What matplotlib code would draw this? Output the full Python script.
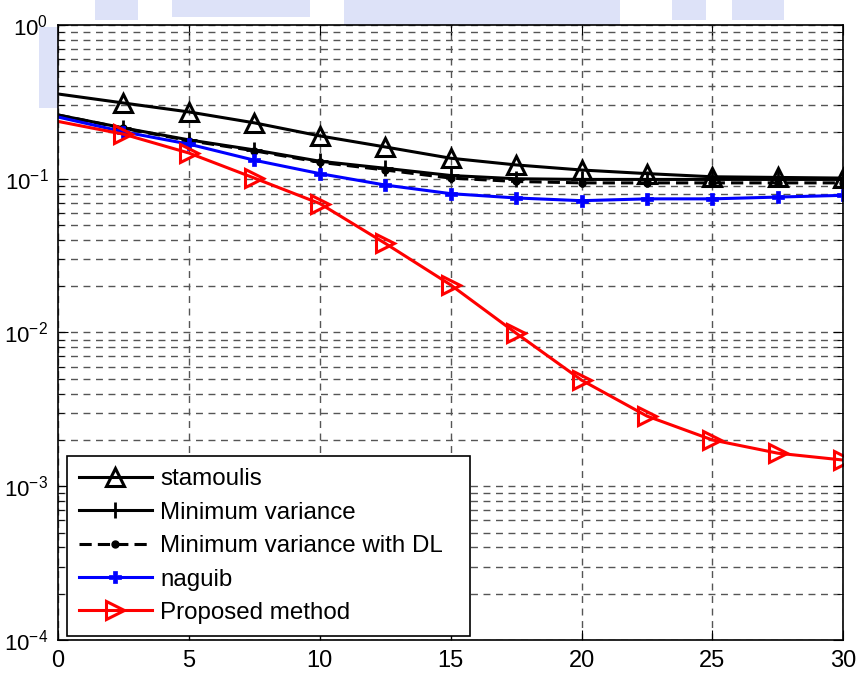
import matplotlib.pyplot as plt
from matplotlib.patches import Rectangle
from matplotlib.ticker import LogLocator, NullFormatter, FixedLocator

plt.rcParams['font.family'] = ['Liberation Sans', 'DejaVu Sans']
plt.rcParams['mathtext.fontset'] = 'custom'
plt.rcParams['mathtext.rm'] = 'Liberation Sans'

snr = [0, 2.5, 5, 7.5, 10, 12.5, 15, 17.5, 20, 22.5, 25, 27.5, 30]

stamoulis = [0.356, 0.311, 0.272, 0.231, 0.19, 0.161, 0.136, 0.123,
             0.114, 0.108, 0.103, 0.102, 0.101]
min_var = [0.26, 0.214, 0.179, 0.154, 0.13, 0.117, 0.105, 0.100,
           0.099, 0.099, 0.099, 0.099, 0.099]
min_var_dl = [0.26, 0.213, 0.177, 0.152, 0.128, 0.114, 0.101, 0.096,
              0.094, 0.094, 0.094, 0.094, 0.094]
naguib = [0.252, 0.202, 0.168, 0.132, 0.108, 0.091, 0.080, 0.075,
          0.072, 0.074, 0.074, 0.076, 0.078]
proposed = [0.236, 0.195, 0.147, 0.101, 0.069, 0.038, 0.0204, 0.0099,
            0.0049, 0.00286, 0.0020, 0.00164, 0.00148]

fig = plt.figure(figsize=(8.61, 6.76), dpi=100)

# faint watermark blocks behind the axes
wm = '#b4c0f0'
for x0, y0, w, h in [(0.20, 0.975, 0.16, 0.025), (0.40, 0.963, 0.32, 0.037),
                     (0.78, 0.97, 0.04, 0.03), (0.85, 0.97, 0.06, 0.03),
                     (0.045, 0.84, 0.022, 0.12), (0.11, 0.97, 0.05, 0.03)]:
    fig.add_artist(Rectangle((x0, y0), w, h, transform=fig.transFigure,
                             color=wm, alpha=0.45, lw=0, zorder=0))

ax = fig.add_axes([0.0674, 0.0533, 0.912, 0.9097])
ax.set_zorder(1)

lw = 2.2
ax.plot(snr, stamoulis, color='k', lw=lw, marker='^', ms=13, mfc='none',
        mew=2.2, markevery=slice(1, None), label='stamoulis')
ax.plot(snr, min_var, color='k', lw=lw, marker='+', ms=12, mew=2,
        markevery=slice(1, None), label='Minimum variance')
ax.plot(snr, min_var_dl, color='k', lw=lw, ls=(0, (4, 2)), marker='o', ms=5,
        markevery=slice(1, None), label='Minimum variance with DL')
ax.plot(snr, naguib, color='b', lw=lw, marker='P', ms=9, mew=0.5,
        markevery=slice(1, None), label='naguib')
ax.plot(snr, proposed, color='r', lw=lw, marker='>', ms=13, mfc='none',
        mew=2.2, markevery=slice(1, None), label='Proposed method')

ax.set_yscale('log')
ax.set_xlim(0, 30)
ax.set_ylim(1e-4, 1)
ax.xaxis.set_major_locator(FixedLocator([0, 5, 10, 15, 20, 25, 30]))
ax.yaxis.set_major_locator(LogLocator(base=10, numticks=10))
ax.yaxis.set_minor_locator(LogLocator(base=10, subs=range(2, 10), numticks=20))
ax.yaxis.set_minor_formatter(NullFormatter())

ax.grid(True, which='both', axis='y', color='#555555', ls=(0, (5, 4)), lw=1)
ax.grid(True, which='major', axis='x', color='#555555', ls=(0, (5, 4)), lw=1)

ax.tick_params(which='both', direction='in', top=True, right=True, pad=7)
ax.tick_params(axis='x', labelsize=17)
ax.tick_params(axis='y', labelsize=16)
ax.tick_params(which='major', length=7)
ax.tick_params(which='minor', length=4)
for s in ax.spines.values():
    s.set_linewidth(1.2)

leg = ax.legend(loc='lower left', bbox_to_anchor=(0.0115, 0.0065, 0.513, 0),
                mode='expand', borderaxespad=0, fontsize=17.4, handlelength=3,
                handletextpad=0.35, labelspacing=0.47, borderpad=0.5,
                fancybox=False, framealpha=1, edgecolor='k')
leg.get_frame().set_linewidth(1.2)

fig.savefig('out.png', dpi=100)
